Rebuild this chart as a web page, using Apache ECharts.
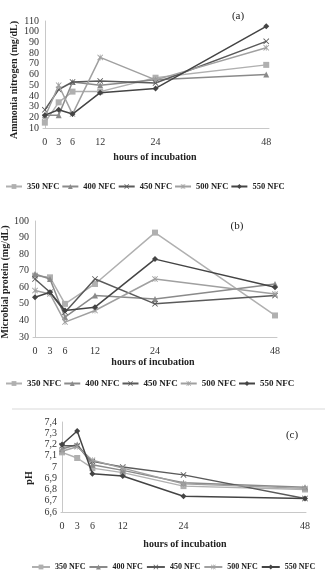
<!DOCTYPE html>
<html>
<head>
<meta charset="utf-8">
<script src="https://cdn.jsdelivr.net/npm/echarts@6/dist/echarts.min.js"></script>
<style>
  html, body { margin: 0; padding: 0; background: #fff; }
  #chart { width: 325px; height: 583px; }
</style>
</head>
<body>
<div id="chart"></div>
<script>
// hours of incubation (x values) and legend names
var hours = [0, 3, 6, 12, 24, 48];
var names = ['350 NFC', '400 NFC', '450 NFC', '500 NFC', '550 NFC'];

// (a) ammonia nitrogen, mg/dL
var ammonia350 = [15, 34, 44, 44, 57, 69];
var ammonia400 = [22, 22, 53, 50, 55, 60];
var ammonia450 = [27, 46, 53, 54, 52, 91];
var ammonia500 = [20, 50, 23, 76, 55, 85];
var ammonia550 = [22, 27, 23, 43, 47, 105];

// (b) microbial protein, mg/dL
var protein350 = [67, 66, 50, 62, 93, 43];
var protein400 = [68, 65, 42, 55, 53, 62];
var protein450 = [65, 57, 45, 65, 50, 55];
var protein500 = [58, 56, 39, 46, 65, 56];
var protein550 = [54, 57, 46, 48, 77, 60];

// (c) pH
var ph350 = [7.13, 7.08, 6.99, 6.95, 6.83, 6.80];
var ph400 = [7.16, 7.20, 7.02, 6.97, 6.86, 6.82];
var ph450 = [7.19, 7.19, 7.05, 7.00, 6.93, 6.72];
var ph500 = [7.14, 7.18, 7.06, 6.99, 6.85, 6.81];
var ph550 = [7.20, 7.32, 6.94, 6.92, 6.74, 6.72];

var panels = [
  [ammonia350, ammonia400, ammonia450, ammonia500, ammonia550],
  [protein350, protein400, protein450, protein500, protein550],
  [ph350, ph400, ph450, ph500, ph550]
];

var serif = 'Liberation Serif';
var colors = ['#b0b0b0', '#8a8a8a', '#5a5a5a', '#a0a0a0', '#444444'];
var crossPath = 'path://M0,1L1,0L5,4L9,0L10,1L6,5L10,9L9,10L5,6L1,10L0,9L4,5Z';
var starPath = 'path://M0,1L1,0L4.4,3.4L4.4,0L5.6,0L5.6,3.4L9,0L10,1L6.2,5L10,9L9,10L5.6,6.6L5.6,10L4.4,10L4.4,6.6L1,10L0,9L3.8,5Z';
var symbols = ['rect', 'triangle', crossPath, starPath, 'diamond'];

var chart = echarts.init(document.getElementById('chart'));

var grids = [
  { left: 43, right: 56, top: 21, height: 107 },
  { left: 33, right: 48, top: 221, height: 116 },
  { left: 61, right: 19, top: 422, height: 90 }
];
var xRange = [[-0.4, 48.6], [-0.4, 48.4], [-0.2, 48.2]];
var yRange = [[10, 110, 10], [30, 100, 10], [6.6, 7.4, 0.1]];

var xAxes = [], yAxes = [], series = [];
for (var p = 0; p < 3; p++) {
  xAxes.push({
    type: 'value', gridIndex: p, min: xRange[p][0], max: xRange[p][1],
    splitLine: { show: false },
    axisLine: { show: true, lineStyle: { color: '#c8c8c8' } },
    axisTick: { show: false },
    axisLabel: {
      customValues: hours, fontFamily: serif, fontSize: 10, color: '#333', margin: 9
    }
  });
  yAxes.push({
    type: 'value', gridIndex: p, min: yRange[p][0], max: yRange[p][1], interval: yRange[p][2],
    splitLine: { show: false },
    axisLine: { show: true, lineStyle: { color: '#c8c8c8' } },
    axisTick: { show: false },
    axisLabel: {
      fontFamily: serif, fontSize: 10, color: '#333', margin: 4,
      formatter: p === 2 ? function (v) { return String(+v.toFixed(1)).replace('.', ','); } : null
    }
  });
  for (var s = 0; s < 5; s++) {
    var vals = panels[p][s];
    series.push({
      type: 'line', name: names[s], xAxisIndex: p, yAxisIndex: p,
      data: hours.map(function (h, i) { return [h, vals[i]]; }),
      symbol: symbols[s], symbolSize: 6, showAllSymbol: true,
      lineStyle: { width: 1.5, color: colors[s] },
      itemStyle: { color: colors[s] },
      emphasis: { disabled: true },
      z: 2 + s
    });
  }
}

function legendAt(left, top, size, iconW, gap) {
  return {
    data: names, orient: 'horizontal', left: left, top: top,
    itemWidth: iconW, itemHeight: 6, itemGap: gap,
    textStyle: { fontFamily: serif, fontWeight: 'bold', fontSize: size, color: '#222' }
  };
}
var legends = [
  legendAt(0, 177, 8.5, 16, 2),
  legendAt(0, 374, 9, 16, 2),
  legendAt(26, 558, 8, 18, 3)
];

function label(txt, x, y, opts) {
  return {
    type: 'text', x: x, y: y, rotation: (opts && opts.rot) || 0,
    style: {
      text: txt, fontFamily: serif, fontSize: (opts && opts.size) || 10,
      fontWeight: (opts && opts.bold) ? 'bold' : 'normal',
      fill: '#222', textAlign: 'center', textVerticalAlign: 'middle'
    }
  };
}

chart.setOption({
  animation: false,
  grid: grids,
  xAxis: xAxes,
  yAxis: yAxes,
  legend: legends,
  series: series,
  graphic: [
    label('Ammonia nitrogen (mg/dL)', 14, 80, { rot: Math.PI / 2, bold: true }),
    label('hours of incubation', 155, 157, { bold: true }),
    label('(a)', 238, 16, { size: 11 }),
    label('Microbial protein (mg/dL)', 5, 282, { rot: Math.PI / 2, bold: true }),
    label('hours of incubation', 153, 362, { bold: true }),
    label('(b)', 237, 226, { size: 11 }),
    { type: 'line', shape: { x1: 12, y1: 409, x2: 325, y2: 409 }, style: { stroke: '#d9d9d9', lineWidth: 1 } },
    label('pH', 29, 478, { rot: Math.PI / 2, bold: true }),
    label('hours of incubation', 185, 544, { bold: true }),
    label('(c)', 292, 435, { size: 11 })
  ]
});
</script>
</body>
</html>
